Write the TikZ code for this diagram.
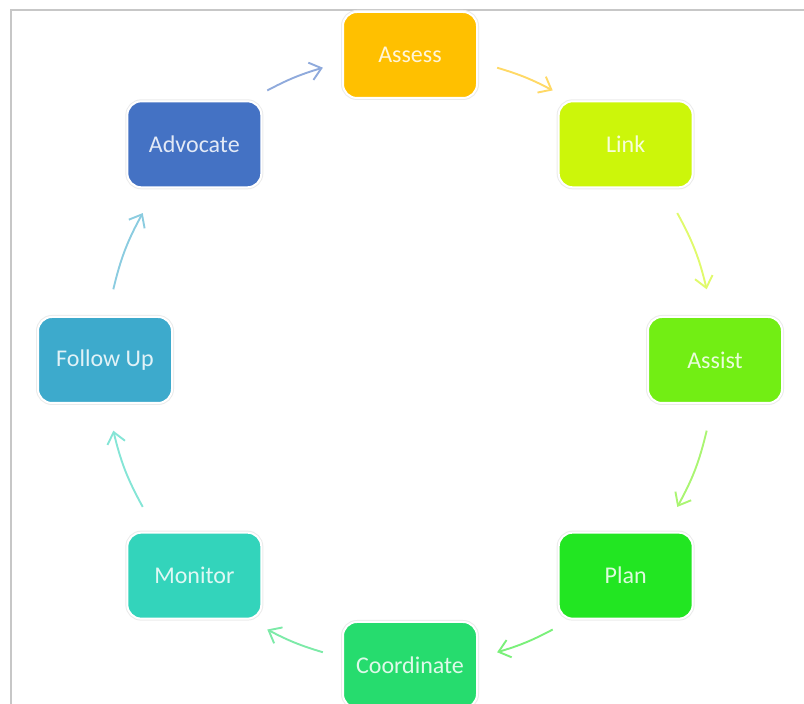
\documentclass[tikz,border=0pt]{standalone}
\usepackage{fontspec}
\setmainfont{Carlito}
\usetikzlibrary{arrows.meta}

\definecolor{col-Assess}{HTML}{FFC000}
\definecolor{col-Link}{HTML}{CCF60A}
\definecolor{col-Assist}{HTML}{72EE14}
\definecolor{col-Plan}{HTML}{22E622}
\definecolor{col-Coordinate}{HTML}{26DC6E}
\definecolor{col-Monitor}{HTML}{33D4BB}
\definecolor{col-FollowUp}{HTML}{3DAACC}
\definecolor{col-Advocate}{HTML}{4472C4}

\begin{document}
\begin{tikzpicture}[x=0.5pt,y=0.5pt]
    \tikzstyle{stage}=[rounded corners=7pt,minimum width=67pt,minimum height=43pt,inner sep=0pt,
        draw=white,line width=1pt,preaction={draw=black!8,line width=2pt},
        text=white,text opacity=0.85,font=\fontsize{12}{14}\selectfont]
    \tikzstyle{turnarrow}=[line width=0.95pt,-{Straight Barb[length=5.5pt,width=9pt]}]
    \useasboundingbox (0,0) rectangle (804,704);
    \draw[black!22,line width=0.75pt] (11,0) -- (11,694) -- (804,694);
    \coordinate (hub) at (410,344);
    \foreach \name/\ang/\txt in {Assess/90/Assess, Link/45/Link, Assist/0/Assist, Plan/-45/Plan,
        Coordinate/-90/Coordinate, Monitor/-135/Monitor, FollowUp/180/Follow Up, Advocate/135/Advocate}
            \node[stage,fill=col-\name] (V-\name) at ([shift={(\ang:305)}]hub) {\txt};

    % arrows sit on the ring between the boxes
    \foreach \from/\to/\a/\b in {Assess/Link/73.4/62.1, Link/Assist/28.8/13.4, Assist/Plan/-13.4/-28.8,
        Plan/Coordinate/-62.1/-73.4, Coordinate/Monitor/-106.6/-117.9, Monitor/FollowUp/-151.2/-166.6,
        FollowUp/Advocate/166.6/151.2, Advocate/Assess/117.9/106.6}
    {
        \pgfmathsetmacro{\bendang}{(\a-\b)/2}
        \coordinate (out-\from) at ([shift={(\a:305)}]hub);
        \coordinate (in-\to) at ([shift={(\b:305)}]hub);
        \draw[turnarrow,draw=col-\from!60!white] (out-\from) to[bend left=\bendang] (in-\to);
    }
\end{tikzpicture}
\end{document}
